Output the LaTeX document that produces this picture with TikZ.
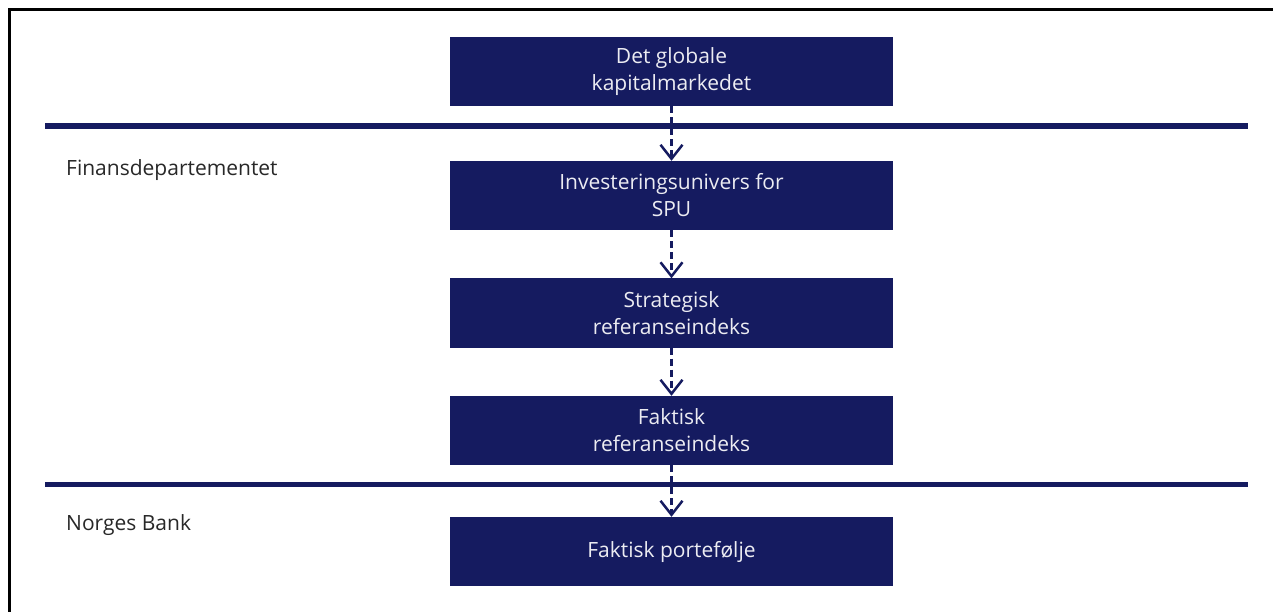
\documentclass[tikz,border=0pt]{standalone}
\usepackage{fontspec}
\setmainfont{Open Sans}
\usetikzlibrary{arrows.meta}
\definecolor{navy}{RGB}{21,27,96}
\definecolor{boxtext}{RGB}{236,236,242}
\definecolor{labeltext}{RGB}{40,40,40}
\tikzset{
  stepbox/.style={fill=navy, draw=none, text=boxtext, align=center,
    minimum width=443bp, minimum height=69bp, inner sep=0pt,
    font=\fontsize{21bp}{27bp}\selectfont},
  flow/.style={draw=navy, line width=2.5bp, dash pattern=on 7bp off 4bp,
    -{Straight Barb[length=14bp, width=22bp, line width=2.5bp]}},
  sep/.style={draw=navy, line width=5.5bp},
  side/.style={text=labeltext, anchor=west, inner sep=0pt,
    font=\fontsize{21bp}{27bp}\selectfont},
}
\begin{document}
\begin{tikzpicture}[x=1bp, y=-1bp]
\useasboundingbox (0,0) rectangle (1273,612);
\fill[white] (0,0) rectangle (1273,612);
\draw[line width=3bp, black] (9.5,612) -- (9.5,10) -- (1273,10);
\draw[sep] (45,126) -- (1248,126);
\draw[sep] (45,484.5) -- (1248,484.5);
\node[stepbox] (b1) at (671.5,71.5) {Det globale\\kapitalmarkedet};
\node[stepbox] (b2) at (671.5,195.5) {Investeringsunivers for\\SPU};
\node[stepbox] (b3) at (671.5,313) {Strategisk\\referanseindeks};
\node[stepbox] (b4) at (671.5,430.5) {Faktisk\\referanseindeks};
\node[stepbox] (b5) at (671.5,551.5) {Faktisk portefølje};
\node[side] (l1) at (66,170) {Finansdepartementet};
\node[side] (l2) at (66,525) {Norges Bank};
\draw[flow] (b1.south) -- (b2.north);
\draw[flow] (b2.south) -- (b3.north);
\draw[flow] (b3.south) -- (b4.north);
\draw[flow] (b4.south) -- (b5.north);
\end{tikzpicture}
\end{document}
